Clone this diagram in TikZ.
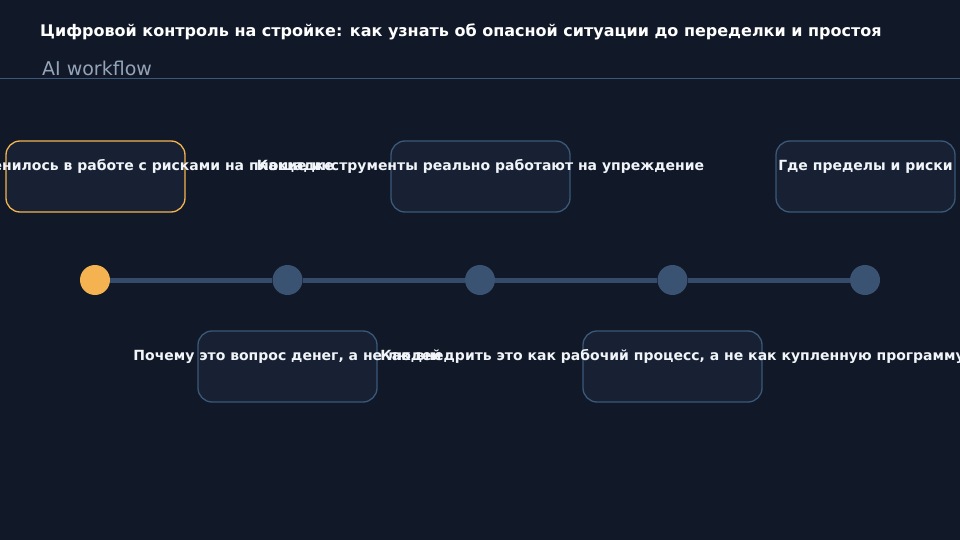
\documentclass[tikz,border=0pt]{standalone}
\usepackage{fontspec}
\setmainfont{DejaVu Sans}
\definecolor{bgc}{HTML}{111827}
\definecolor{boxfill}{HTML}{172133}
\definecolor{boxline}{HTML}{3B5878}
\definecolor{accent}{HTML}{F4B350}
\definecolor{dotc}{HTML}{3A5373}
\definecolor{trackc}{HTML}{344B6A}
\definecolor{subc}{HTML}{94A3B8}
\definecolor{txtc}{HTML}{F1F5F9}
\begin{document}
\begin{tikzpicture}[x=1pt,y=-1pt,
  stepcard/.style={draw=boxline, line width=1.3pt, fill=boxfill, rounded corners=14pt,
    minimum width=179pt, minimum height=71pt, inner sep=0pt},
  activecard/.style={stepcard, draw=accent},
  steplabel/.style={text=txtc, anchor=base, inner sep=0pt,
    font=\bfseries\fontsize{14}{16}\selectfont},
  dot/.style={circle, fill=dotc, minimum size=30pt, inner sep=0pt},
  activedot/.style={dot, fill=accent},
  track/.style={draw=trackc, line width=5pt}]
\fill[bgc] (0,0) rectangle (960,540);
\useasboundingbox (0,0) rectangle (960,540);
\clip (0,0) rectangle (960,540);
% header
\node[anchor=base west, inner sep=0pt, text=white, font=\bfseries\fontsize{16}{19}\selectfont] (title) at (40,37)
  {Цифровой контроль на стройке: как узнать об опасной ситуации до переделки и простоя};
\node[anchor=base west, inner sep=0pt, text=subc, font=\fontsize{19}{22}\selectfont] (sub) at (42,76) {AI workflow};
\coordinate (hl) at (0,78.5);
\coordinate (hr) at (960,78.5);
\draw[boxline, line width=1pt] (hl) -- (hr);
% timeline dots
\node[activedot] (c1) at (95,280) {};
\node[dot] (c2) at (287.5,280) {};
\node[dot] (c3) at (480,280) {};
\node[dot] (c4) at (672.5,280) {};
\node[dot] (c5) at (865,280) {};
\draw[track] (c1) -- (c2);
\draw[track] (c2) -- (c3);
\draw[track] (c3) -- (c4);
\draw[track] (c4) -- (c5);
% cards
\node[activecard] (b1) at (95.5,176.5) {};
\node[stepcard] (b2) at (287.5,366.5) {};
\node[stepcard] (b3) at (480.5,176.5) {};
\node[stepcard] (b4) at (672.5,366.5) {};
\node[stepcard] (b5) at (865.5,176.5) {};
% labels
\node[steplabel] (l1) at ([yshift=-30pt]b1.north) {Что реально изменилось в работе с рисками на площадке};
\node[steplabel] (l2) at ([yshift=-30pt]b2.north) {Почему это вопрос денег, а не людей};
\node[steplabel] (l3) at ([yshift=-30pt]b3.north) {Какие инструменты реально работают на упреждение};
\node[steplabel] (l4) at ([yshift=-30pt]b4.north) {Как внедрить это как рабочий процесс, а не как купленную программу};
\node[steplabel] (l5) at ([yshift=-30pt]b5.north) {Где пределы и риски};
\end{tikzpicture}
\end{document}
